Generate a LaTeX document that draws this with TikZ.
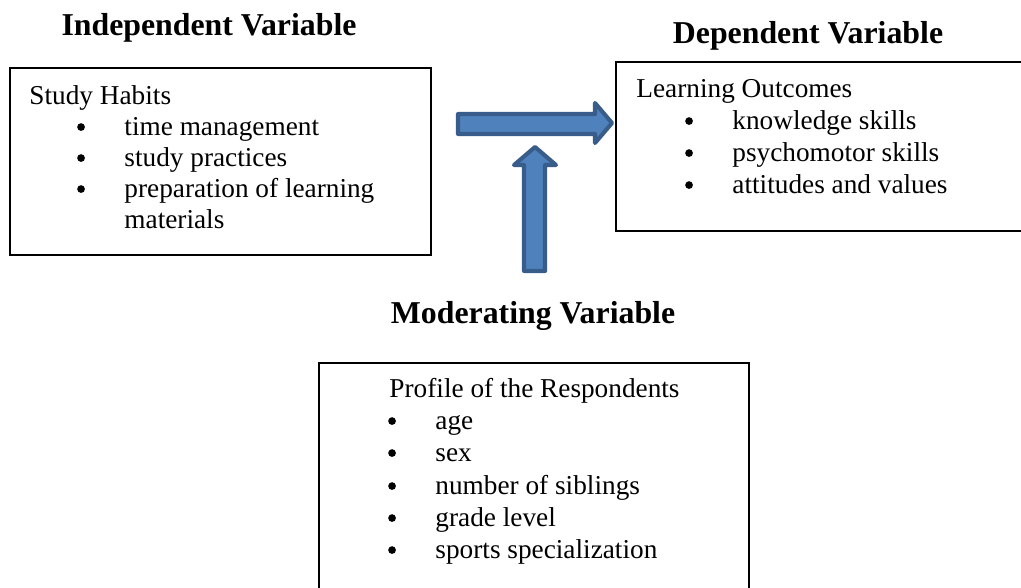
\documentclass[tikz,border=0pt]{standalone}
\usepackage{fontspec}
\setmainfont{Liberation Serif}
\usepackage{tikz}
\usetikzlibrary{positioning}
\definecolor{arrowfill}{HTML}{4F81BD}
\definecolor{arrowline}{HTML}{385D8A}
\newcommand{\cfpx}{0.44pt}
\newcommand{\cfbox}[4]{
	\node [varbox, minimum width=#3*\cfpx, minimum height=#4*\cfpx] (#1) at (#2) {};}
\newcommand{\cfitem}[3]{
	\node [itemtext] (#1) at (#2) {#3};
	\node [itembullet] (#1b) at ([xshift=-18.9pt, yshift=3.5pt]#1.base west) {};}

\begin{document}
\begin{tikzpicture}[x=\cfpx,y=-\cfpx,
	varbox/.style={draw, line width=0.7pt, anchor=north west, inner sep=0pt},
	itemtext/.style={anchor=base west, inner sep=0pt, font=\fontsize{12pt}{14pt}\selectfont},
	itembullet/.style={circle, fill, inner sep=0pt, minimum size=3.4pt},
	vartitle/.style={anchor=base, inner sep=0pt, font=\fontsize{14pt}{16pt}\selectfont\bfseries},
	blockarrow/.style={fill=arrowfill, draw=arrowline, line width=1.8pt, line join=round}]
	\useasboundingbox (0,0) rectangle (1021,587);
	% titles
	\node [vartitle] (indep) at (209,35) {Independent Variable};
	\node [vartitle] (dep) at (808,43) {Dependent Variable};
	\node [vartitle] (mod) at (533,323) {Moderating Variable};
	% boxes
	\cfbox{habits}{9,67}{421}{187}
	\cfbox{outcomes}{615,61}{420}{169}
	\cfbox{profile}{318,362}{430}{240}
	% independent variable
	\node [itemtext] (habitshead) at (29,104) {Study Habits};
	\cfitem{time}{124,135}{time management}
	\cfitem{practices}{124,166}{study practices}
	\cfitem{prep}{124,197}{preparation of learning}
	\node [itemtext] (prepcont) at (124,228) {materials};
	% dependent variable
	\node [itemtext] (outhead) at (636,97) {Learning Outcomes};
	\cfitem{knowledge}{732,129}{knowledge skills}
	\cfitem{psycho}{732,161}{psychomotor skills}
	\cfitem{attitudes}{732,193}{attitudes and values}
	% moderating variable
	\node [itemtext] (profhead) at (389,397) {Profile of the Respondents};
	\cfitem{age}{435,429}{age}
	\cfitem{sex}{435,461}{sex}
	\cfitem{siblings}{435,494}{number of siblings}
	\cfitem{grade}{435,526}{grade level}
	\cfitem{sports}{435,558}{sports specialization}
	% block arrows
	\draw [blockarrow] (458,114) -- (595,114) -- (595,103) -- (612,123)
		-- (595,143) -- (595,134) -- (458,134) -- cycle;
	\draw [blockarrow] (524,271) -- (524,165) -- (514,165) -- (535,147)
		-- (556,165) -- (545,165) -- (545,271) -- cycle;
\end{tikzpicture}
\end{document}
